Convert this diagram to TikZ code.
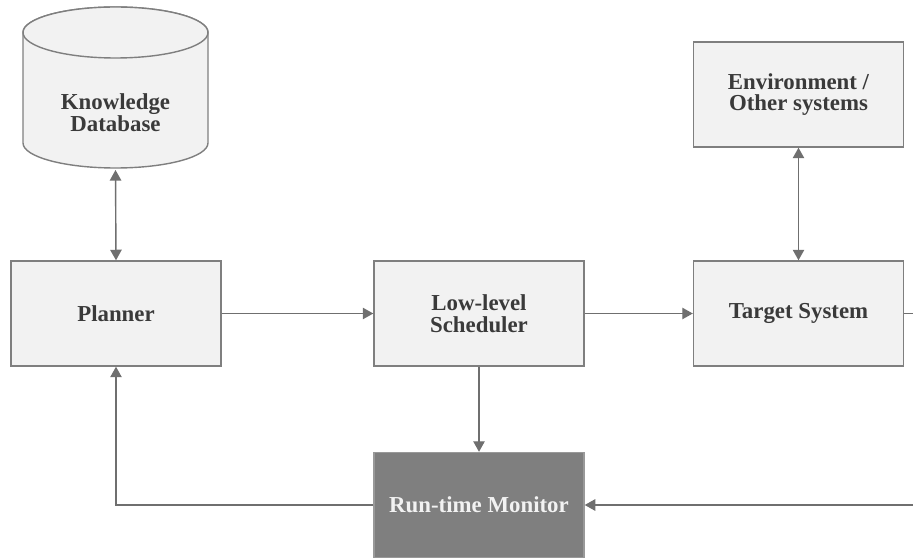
\documentclass[tikz,border=0pt]{standalone}
\usepackage{fontspec}
\setmainfont{Liberation Serif}
\usetikzlibrary{arrows.meta}
\definecolor{boxfill}{HTML}{F2F2F2}
\definecolor{boxline}{HTML}{7F7F7F}
\definecolor{linkcol}{HTML}{6F6F6F}
\definecolor{txtcol}{HTML}{3A3A3A}
\definecolor{monfill}{HTML}{7F7F7F}
\tikzset{
  label text/.style={text=txtcol, font=\bfseries\fontsize{13}{12.3}\selectfont, align=center},
  block/.style={label text, draw=boxline, fill=boxfill, line width=0.8pt,
    minimum width=210*0.02cm, minimum height=105*0.02cm, inner sep=0pt},
  monitor/.style={block, fill=monfill, draw=boxline!80, text=boxfill},
  drum/.style={draw=boxline, fill=boxfill, line width=0.8pt},
  link/.style={draw=linkcol, line width=0.8pt, -{Triangle[length=6pt,width=6.5pt]}},
  dlink/.style={link, {Triangle[length=6pt,width=6.5pt]}-{Triangle[length=6pt,width=6.5pt]}},
}
\begin{document}
\begin{tikzpicture}[x=0.02cm, y=0.02cm]
        \useasboundingbox (0,0) rectangle (913,558);
        \draw[drum] (23,525.5) -- (23,415) arc[start angle=180, end angle=360, x radius=92.5, y radius=25]
          -- (208,525.5) arc[start angle=0, end angle=180, x radius=92.5, y radius=25.5] -- cycle;
        \draw[drum] (115.5,525.5) ellipse[x radius=92.5, y radius=25.5];
        \node[label text] (kdb) at (115.5, 445.5) {Knowledge\\Database};
        \coordinate (kdbbot) at (115.5, 388);

        \node[block] (env) at (798.5, 463.5) {Environment /\\Other systems};
        \node[block] (plan) at (116, 244.5) {Planner};
        \node[block] (sched) at (479, 244.5) {Low-level\\Scheduler};
        \node[block] (target) at (798.5, 244.5) {Target System};
        \node[monitor] (mon) at (479, 53) {Run-time Monitor};
        \coordinate (outT) at (913, 244.5);
        \coordinate (inM) at (913, 53);

        \draw[dlink] (kdbbot) -- (plan.north);
        \draw[dlink] (env.south) -- (target.north);
        \draw[link] (plan) -- (sched);
        \draw[link] (sched) -- (target);
        \draw[link, -] (target) -- (outT);
        \draw[link] (sched) -- (mon);
        \draw[link] (inM) -- (mon);
        \draw[link] (mon.west) -| (plan.south);
    \end{tikzpicture}
\end{document}
